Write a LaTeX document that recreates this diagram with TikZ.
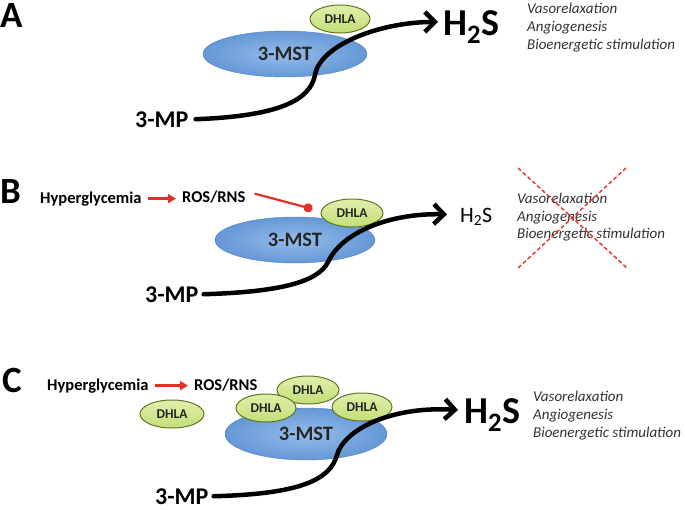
\documentclass[tikz,border=0pt]{standalone}
\usepackage{fontspec}
\setmainfont{Carlito}
\usetikzlibrary{shapes.geometric,arrows.meta}
\definecolor{mstblue}{RGB}{100,152,214}
\definecolor{mstlight}{RGB}{150,188,234}
\definecolor{dhlafill}{RGB}{196,222,118}
\definecolor{dhlalight}{RGB}{224,239,172}
\definecolor{dhlaedge}{RGB}{92,118,34}
\definecolor{inhred}{RGB}{226,50,40}
\definecolor{txtgray}{RGB}{50,50,50}
\tikzset{
  panel/.style={font=\fontsize{37}{37}\selectfont\bfseries, anchor=base west, inner sep=0},
  mst/.style={ellipse, inner sep=0, inner color=mstlight, outer color=mstblue, draw=mstblue!85!black, line width=0.4pt, font=\fontsize{20.5}{21}\selectfont\bfseries, text=black!85},
  dhla/.style={ellipse, inner sep=0, top color=dhlalight, bottom color=dhlafill, draw=dhlaedge, line width=1pt, font=\fontsize{13.5}{14}\selectfont\bfseries, text=black!85, minimum height=28pt},
  mp/.style={font=\fontsize{24}{24}\selectfont\bfseries, anchor=base west, inner sep=0},
  hbig/.style={font=\fontsize{38}{38}\selectfont\bfseries, anchor=base west, inner sep=0},
  hsmall/.style={font=\fontsize{22}{22}\selectfont, anchor=base west, inner sep=0},
  effect/.style={font=\fontsize{15}{15}\selectfont\itshape, text=txtgray, anchor=base west, inner sep=0},
  cause/.style={font=\fontsize{16.5}{17}\selectfont\bfseries, anchor=base west, inner sep=0},
  flow/.style={line width=4.5pt, line cap=round, -{Straight Barb[length=10pt,width=20pt]}},
  redarrow/.style={inhred, line width=2.6pt, -{Triangle[length=8pt,width=9pt]}},
  inhibit/.style={inhred, line width=2.2pt, -{Circle[length=9pt]}},
  cross/.style={inhred, line width=1.4pt, dash pattern=on 4pt off 2.5pt},
}
\begin{document}
\begin{tikzpicture}[x=1pt,y=-1pt]
\useasboundingbox (0,0) rectangle (685,509);
% ---------- Panel A ----------
\node[panel] (labA) at (0,27) {A};
\node[mst, minimum width=164pt, minimum height=46pt] (mstA) at (285,54) {3-MST};
\node[dhla, minimum width=60pt] (dhlaA) at (340,19) {DHLA};
\node[mp] (mpA) at (135,127) {3-MP};
\node[hbig] (hA) at (443,35) {H\textsubscript{2}S};
\node[effect] (eA1) at (527,13) {Vasorelaxation};
\node[effect] (eA2) at (527,31) {Angiogenesis};
\node[effect] (eA3) at (527,49) {Bioenergetic stimulation};
\draw[flow] ([xshift=7pt]mpA.east) .. controls (280,116) and (310,100) .. (315,75)
  .. controls (320,45) and (380,22) .. ([xshift=-5pt,yshift=5pt]hA.west);
% ---------- Panel B ----------
\node[panel] (labB) at (0,203) {B};
\node[cause] (hypB) at (40,203) {Hyperglycemia};
\node[cause] (rosB) at (182,202) {ROS/RNS};
\draw[redarrow, shorten >=6pt] ([xshift=6pt]hypB.east) -- (hypB.east -| rosB.west);
\node[mst, minimum width=160pt, minimum height=46pt] (mstB) at (295,240) {3-MST};
\node[dhla, minimum width=62pt] (dhlaB) at (352,213) {DHLA};
\draw[inhibit] ([xshift=9pt,yshift=3pt]rosB.east) -- ([xshift=-8pt,yshift=4pt]dhlaB.west);
\node[mp] (mpB) at (145,302) {3-MP};
\node[hsmall] (hB) at (460,222) {H\textsubscript{2}S};
\node[effect] (eB1) at (517,203) {Vasorelaxation};
\node[effect] (eB2) at (517,221) {Angiogenesis};
\node[effect] (eB3) at (517,238) {Bioenergetic stimulation};
\draw[cross] (518,168) -- (627,268);
\draw[cross] (626,168) -- (518,268);
\draw[flow] ([xshift=5pt]mpB.east) .. controls (280,292) and (318,282) .. (328,262)
  .. controls (342,232) and (390,213) .. ([xshift=-13pt,yshift=2pt]hB.west);
% ---------- Panel C ----------
\node[panel] (labC) at (2,392) {C};
\node[cause] (hypC) at (47,390) {Hyperglycemia};
\node[cause] (rosC) at (194,390) {ROS/RNS};
\draw[redarrow, shorten >=6pt] ([xshift=6pt]hypC.east) -- (hypC.east -| rosC.west);
\node[mst, minimum width=162pt, minimum height=52pt] (mstC) at (306,434) {3-MST};
\node[dhla, minimum width=64pt] (dhlaFree) at (172,414) {DHLA};
\node[dhla, minimum width=62pt] (dhlaTop) at (308,390) {DHLA};
\node[dhla, minimum width=60pt] (dhlaLeft) at (266,408) {DHLA};
\node[dhla, minimum width=60pt] (dhlaRight) at (362,407) {DHLA};
\node[mp] (mpC) at (155,504) {3-MP};
\node[hbig] (hC) at (464,423) {H\textsubscript{2}S};
\node[effect] (eC1) at (533,401) {Vasorelaxation};
\node[effect] (eC2) at (533,419) {Angiogenesis};
\node[effect] (eC3) at (533,437) {Bioenergetic stimulation};
\draw[flow] ([xshift=5pt]mpC.east) .. controls (300,494) and (330,480) .. (337,455)
  .. controls (344,430) and (390,406) .. ([xshift=-6pt,yshift=5pt]hC.west);
\end{tikzpicture}
\end{document}
